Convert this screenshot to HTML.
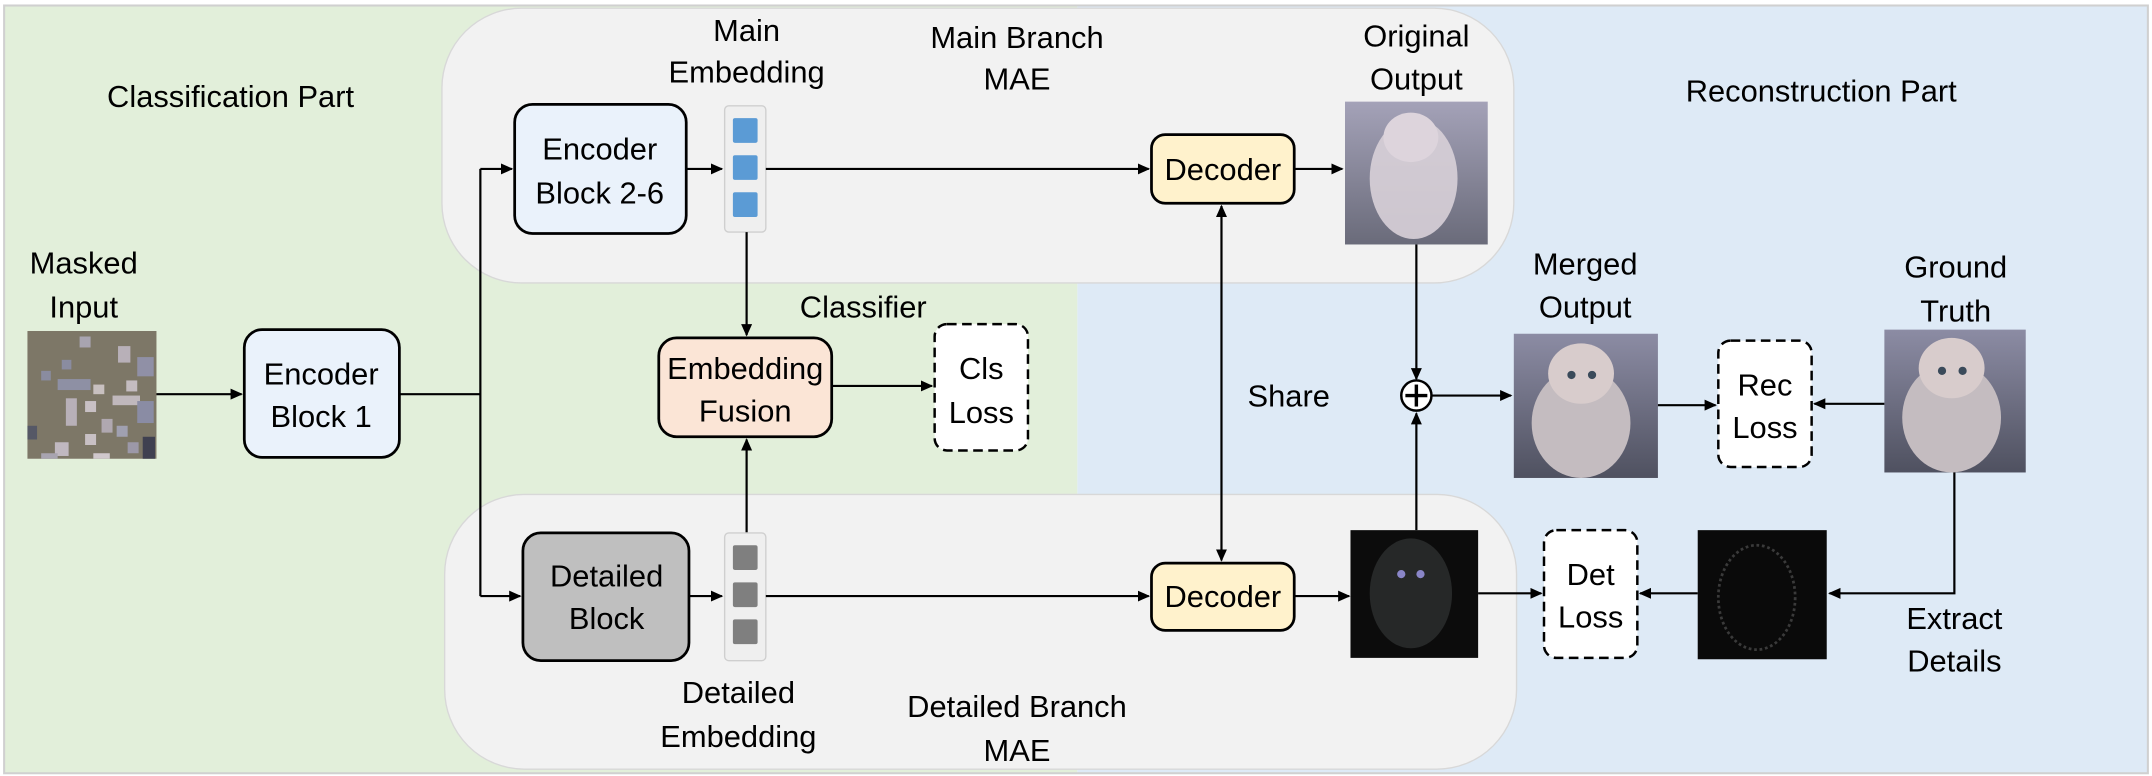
<!DOCTYPE html>
<html><head><meta charset="utf-8"><style>
html,body{margin:0;padding:0;background:#fff;}
svg{display:block;}
text{font-family:"Liberation Sans",sans-serif;font-size:22.5px;fill:#000;text-anchor:middle;}
</style></head><body>
<svg width="2152" height="776" viewBox="0 0 1568 565" preserveAspectRatio="none" xmlns="http://www.w3.org/2000/svg">
<defs>
<marker id="ar" markerWidth="10" markerHeight="10" refX="8" refY="4" orient="auto-start-reverse" markerUnits="userSpaceOnUse"><path d="M0,0 L9,4 L0,8 z" fill="#000"/></marker>
<linearGradient id="gOrig" x1="0" y1="0" x2="0" y2="1"><stop offset="0" stop-color="#a4a2b8"/><stop offset="1" stop-color="#6a6b7a"/></linearGradient>
<linearGradient id="gCat" x1="0" y1="0" x2="0" y2="1"><stop offset="0" stop-color="#8c8ca4"/><stop offset="1" stop-color="#4f5160"/></linearGradient>
</defs>
<rect x="0" y="0" width="1568" height="565" fill="#fff"/>
<rect x="3" y="4" width="782" height="559" fill="#e2efda"/>
<rect x="785" y="4" width="780" height="559" fill="#deeaf6"/>
<rect x="3" y="4" width="1562" height="559" fill="none" stroke="#d0d0d0" stroke-width="1.5"/>
<rect x="322" y="6" width="781" height="200" rx="58" fill="#f2f2f2" stroke="#d8d8d8" stroke-width="1"/>
<rect x="324" y="360" width="781" height="200" rx="58" fill="#f2f2f2" stroke="#d8d8d8" stroke-width="1"/>

<text x="168" y="78">Classification Part</text>
<text x="1327" y="74">Reconstruction Part</text>
<text x="61" y="199">Masked</text>
<text x="61" y="231">Input</text>
<text x="544" y="30">Main</text>
<text x="544" y="60">Embedding</text>
<text x="741" y="35">Main Branch</text>
<text x="741" y="65">MAE</text>
<text x="1032" y="34">Original</text>
<text x="1032" y="65">Output</text>
<text x="629" y="231">Classifier</text>
<text x="939" y="296">Share</text>
<text x="1155" y="200">Merged</text>
<text x="1155" y="231">Output</text>
<text x="1425" y="202">Ground</text>
<text x="1425" y="234">Truth</text>
<text x="538" y="512">Detailed</text>
<text x="538" y="544">Embedding</text>
<text x="741" y="522">Detailed Branch</text>
<text x="741" y="554">MAE</text>
<text x="1424" y="458">Extract</text>
<text x="1424" y="489">Details</text>

<rect x="20" y="241" width="94" height="93" fill="#7d7767"/>
<g fill="#a8a4b0">
<rect x="58" y="245" width="8" height="8"/><rect x="86" y="252" width="9" height="12" fill="#b8b0b8"/>
<rect x="45" y="262" width="7" height="7" fill="#8a8ca0"/><rect x="100" y="260" width="12" height="14" fill="#9090a6"/>
<rect x="30" y="270" width="7" height="7" fill="#8a8ca0"/><rect x="42" y="276" width="24" height="8" fill="#8e90a4"/>
<rect x="68" y="280" width="8" height="7" fill="#c8c0c0"/><rect x="82" y="288" width="20" height="7" fill="#c0b8bc"/>
<rect x="92" y="277" width="8" height="8" fill="#c4bcc0"/><rect x="48" y="290" width="8" height="20" fill="#b8b0b8"/>
<rect x="62" y="292" width="8" height="8" fill="#c8c0c4"/><rect x="100" y="292" width="12" height="16" fill="#8a8ca4"/>
<rect x="74" y="305" width="8" height="10" fill="#b0a8b0"/><rect x="85" y="310" width="8" height="8" fill="#a0a0b0"/>
<rect x="20" y="310" width="7" height="10"  fill="#555866"/><rect x="62" y="316" width="8" height="8" fill="#c8c0c4"/>
<rect x="93" y="322" width="8" height="8" fill="#9c98a8"/><rect x="104" y="318" width="9" height="16" fill="#3f4050"/>
<rect x="40" y="322" width="10" height="10" fill="#c0b8c0"/><rect x="30" y="330" width="12" height="4" fill="#a8a4b0"/>
<rect x="68" y="330" width="12" height="4" fill="#d0c8cc"/></g>

<rect x="178" y="240" width="113" height="93" rx="13" fill="#eaf2fb" stroke="#000" stroke-width="2"/>
<text x="234" y="280">Encoder</text><text x="234" y="311">Block 1</text>
<line x1="114" y1="287" x2="176" y2="287" stroke="#000" stroke-width="1.6" marker-end="url(#ar)"/>
<polyline points="291,287 350,287" fill="none" stroke="#000" stroke-width="1.6"/>
<line x1="350" y1="123" x2="350" y2="434" stroke="#000" stroke-width="1.6"/>
<line x1="350" y1="123" x2="373" y2="123" stroke="#000" stroke-width="1.6" marker-end="url(#ar)"/>
<line x1="350" y1="434" x2="379" y2="434" stroke="#000" stroke-width="1.6" marker-end="url(#ar)"/>

<rect x="375" y="76" width="125" height="94" rx="13" fill="#eaf2fb" stroke="#000" stroke-width="2"/>
<text x="437" y="116">Encoder</text><text x="437" y="148">Block 2-6</text>
<line x1="500" y1="123" x2="526" y2="123" stroke="#000" stroke-width="1.6" marker-end="url(#ar)"/>
<rect x="528" y="77" width="30" height="92" rx="3" fill="#efefef" stroke="#cfcfcf"/>
<g fill="#5b9bd5"><rect x="534" y="86" width="18" height="18" rx="1.5"/><rect x="534" y="113" width="18" height="18" rx="1.5"/><rect x="534" y="140" width="18" height="18" rx="1.5"/></g>
<line x1="558" y1="123" x2="837" y2="123" stroke="#000" stroke-width="1.6" marker-end="url(#ar)"/>
<line x1="544" y1="169" x2="544" y2="244" stroke="#000" stroke-width="1.6" marker-end="url(#ar)"/>

<rect x="480" y="246" width="126" height="72" rx="13" fill="#fbe5d6" stroke="#000" stroke-width="2"/>
<text x="543" y="276">Embedding</text><text x="543" y="307">Fusion</text>
<line x1="606" y1="281" x2="679" y2="281" stroke="#000" stroke-width="1.6" marker-end="url(#ar)"/>
<rect x="681" y="236" width="68" height="92" rx="9" fill="#fff" stroke="#000" stroke-width="1.8" stroke-dasharray="7,4"/>
<text x="715" y="276">Cls</text><text x="715" y="308">Loss</text>
<line x1="544" y1="388" x2="544" y2="320" stroke="#000" stroke-width="1.6" marker-end="url(#ar)"/>

<rect x="381" y="388" width="121" height="93" rx="13" fill="#bfbfbf" stroke="#000" stroke-width="2"/>
<text x="442" y="427">Detailed</text><text x="442" y="458">Block</text>
<line x1="502" y1="434" x2="526" y2="434" stroke="#000" stroke-width="1.6" marker-end="url(#ar)"/>
<rect x="528" y="388" width="30" height="93" rx="3" fill="#efefef" stroke="#cfcfcf"/>
<g fill="#7f7f7f"><rect x="534" y="397" width="18" height="18" rx="1.5"/><rect x="534" y="424" width="18" height="18" rx="1.5"/><rect x="534" y="451" width="18" height="18" rx="1.5"/></g>
<line x1="558" y1="434" x2="837" y2="434" stroke="#000" stroke-width="1.6" marker-end="url(#ar)"/>

<rect x="839" y="98" width="104" height="50" rx="10" fill="#fff2cc" stroke="#000" stroke-width="2"/>
<text x="891" y="131">Decoder</text>
<rect x="839" y="410" width="104" height="49" rx="10" fill="#fff2cc" stroke="#000" stroke-width="2"/>
<text x="891" y="442">Decoder</text>
<line x1="890" y1="150" x2="890" y2="408" stroke="#000" stroke-width="1.6" marker-end="url(#ar)" marker-start="url(#ar)"/>
<line x1="943" y1="123" x2="978" y2="123" stroke="#000" stroke-width="1.6" marker-end="url(#ar)"/>
<line x1="943" y1="434" x2="983" y2="434" stroke="#000" stroke-width="1.6" marker-end="url(#ar)"/>

<rect x="980" y="74" width="104" height="104" fill="url(#gOrig)"/>
<ellipse cx="1030" cy="130" rx="32" ry="44" fill="#d8d0d8" opacity="0.9"/>
<ellipse cx="1028" cy="100" rx="20" ry="18" fill="#ddd4dc"/>
<rect x="984" y="386" width="93" height="93" fill="#0c0c0c"/>
<ellipse cx="1028" cy="432" rx="30" ry="40" fill="#262828"/>
<circle cx="1021" cy="418" r="3" fill="#8a86c8"/><circle cx="1035" cy="418" r="3" fill="#8a86c8"/>

<line x1="1032" y1="178" x2="1032" y2="276" stroke="#000" stroke-width="1.6" marker-end="url(#ar)"/>
<line x1="1032" y1="386" x2="1032" y2="301" stroke="#000" stroke-width="1.6" marker-end="url(#ar)"/>
<circle cx="1032" cy="288" r="11" fill="#fff" stroke="#000" stroke-width="1.8"/>
<line x1="1024" y1="288" x2="1040" y2="288" stroke="#000" stroke-width="2.5"/>
<line x1="1032" y1="280" x2="1032" y2="296" stroke="#000" stroke-width="2.5"/>
<line x1="1043" y1="288" x2="1101" y2="288" stroke="#000" stroke-width="1.6" marker-end="url(#ar)"/>

<rect x="1103" y="243" width="105" height="105" fill="url(#gCat)"/>
<ellipse cx="1152" cy="308" rx="36" ry="40" fill="#c4bcc0"/>
<ellipse cx="1152" cy="272" rx="24" ry="22" fill="#d8cccc"/>
<circle cx="1145" cy="273" r="3" fill="#3a4a5a"/><circle cx="1160" cy="273" r="3" fill="#3a4a5a"/>
<line x1="1208" y1="295" x2="1250" y2="295" stroke="#000" stroke-width="1.6" marker-end="url(#ar)"/>
<rect x="1252" y="248" width="68" height="92" rx="9" fill="#fff" stroke="#000" stroke-width="1.8" stroke-dasharray="7,4"/>
<text x="1286" y="288">Rec</text><text x="1286" y="319">Loss</text>
<rect x="1373" y="240" width="103" height="104" fill="url(#gCat)"/>
<ellipse cx="1422" cy="304" rx="36" ry="40" fill="#c4bcc0"/>
<ellipse cx="1422" cy="268" rx="24" ry="22" fill="#d8cccc"/>
<circle cx="1415" cy="270" r="3" fill="#3a4a5a"/><circle cx="1430" cy="270" r="3" fill="#3a4a5a"/>
<line x1="1373" y1="294" x2="1322" y2="294" stroke="#000" stroke-width="1.6" marker-end="url(#ar)"/>
<polyline points="1424,344 1424,432 1340,432" fill="none" stroke="#000" stroke-width="1.6"/>
<line x1="1340" y1="432" x2="1333" y2="432" stroke="#000" stroke-width="1.6" marker-end="url(#ar)"/>
<rect x="1237" y="386" width="94" height="94" fill="#0a0a0a"/>
<ellipse cx="1280" cy="435" rx="28" ry="38" fill="none" stroke="#3a3a3a" stroke-width="2" stroke-dasharray="2,2"/>
<line x1="1237" y1="432" x2="1195" y2="432" stroke="#000" stroke-width="1.6" marker-end="url(#ar)"/>
<line x1="1077" y1="432" x2="1123" y2="432" stroke="#000" stroke-width="1.6" marker-end="url(#ar)"/>
<rect x="1125" y="386" width="68" height="93" rx="9" fill="#fff" stroke="#000" stroke-width="1.8" stroke-dasharray="7,4"/>
<text x="1159" y="426">Det</text><text x="1159" y="457">Loss</text>
</svg>
</body></html>
